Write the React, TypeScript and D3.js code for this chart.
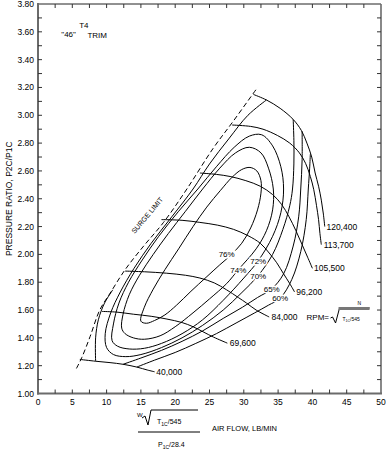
import React from 'react'
import * as d3 from 'd3'

// compressor map, "46" trim, T4
const surge: [number, number][] = [
  [5.6, 1.18], [6.4, 1.26], [7.6, 1.41], [9.0, 1.60], [10.5, 1.72], [12.7, 1.89],
  [15.4, 2.06], [18.3, 2.23], [21.7, 2.47], [25.5, 2.76], [28.5, 2.96], [32.0, 3.20],
]

const speedNames = ['40,000', '69,600', '84,000', '96,200', '105,500', '113,700', '120,400']
const speedLines: [number, number][][] = [
  [[6.1, 1.245], [8.4, 1.232], [10.5, 1.222], [12.4, 1.21], [14.4, 1.19], [16.0, 1.168], [17.0, 1.156]],
  [[9.3, 1.59], [11.5, 1.585], [13.9, 1.57], [16.5, 1.555], [18.8, 1.535], [21, 1.51], [22.6, 1.48], [24.2, 1.44], [25.6, 1.405], [27.6, 1.362]],
  [[12.7, 1.88], [15.5, 1.875], [18.7, 1.865], [21.5, 1.85], [23.6, 1.83], [25.7, 1.795], [27.5, 1.745], [29.2, 1.69], [30.4, 1.65], [31.8, 1.60], [33.7, 1.55]],
  [[18.0, 2.25], [21, 2.245], [23.6, 2.23], [26.2, 2.21], [28.5, 2.18], [30.6, 2.135], [32.4, 2.08], [33.7, 2.01], [34.8, 1.94], [35.8, 1.86], [36.7, 1.79], [37.4, 1.73]],
  [[23.6, 2.585], [26, 2.575], [28.0, 2.56], [30.3, 2.53], [32.4, 2.49], [34.2, 2.43], [35.5, 2.36], [36.6, 2.27], [37.6, 2.17], [38.5, 2.07], [39.3, 1.98], [40.0, 1.90]],
  [[28.3, 2.93], [31, 2.92], [32.8, 2.90], [34.9, 2.855], [36.7, 2.80], [38.1, 2.73], [39.0, 2.655], [39.7, 2.56], [40.2, 2.465], [40.6, 2.35], [40.9, 2.25], [41.1, 2.15], [41.3, 2.07]],
  [[31.4, 3.15], [33.3, 3.11], [35.3, 3.05], [37.2, 2.97], [38.4, 2.89], [39.2, 2.80], [39.9, 2.70], [40.4, 2.585], [40.9, 2.49], [41.3, 2.39], [41.6, 2.29], [41.8, 2.20]],
]
const speedLabelAt: [number, number][] = [
  [17.1, 1.155], [27.8, 1.36], [33.9, 1.55], [37.5, 1.73], [40.1, 1.90], [41.5, 2.07], [41.9, 2.20],
]

// efficiency contours
const effNames = ['76%', '74%', '72%', '70%', '65%', '60%']
const effClosed = [true, true, true, false, false, false]
const effLines: [number, number][][][] = [
  [[[15.0, 1.52], [15.5, 1.62], [16.8, 1.75], [18.5, 1.89], [20.5, 2.04], [22.6, 2.20], [24.6, 2.34], [26.6, 2.46], [28.3, 2.555], [29.7, 2.61], [30.9, 2.625], [31.9, 2.60], [32.5, 2.53], [32.5, 2.44], [32.0, 2.32], [31.0, 2.19], [29.7, 2.08], [28.0, 1.99], [26.5, 1.925], [24.5, 1.835], [22.3, 1.735], [20.2, 1.635], [18.5, 1.565], [17.0, 1.525], [15.8, 1.505]]],
  [[[12.2, 1.47], [12.4, 1.57], [13.3, 1.71], [14.8, 1.85], [16.8, 2.0], [19.0, 2.15], [21.5, 2.31], [24.0, 2.47], [26.5, 2.62], [28.8, 2.73], [30.8, 2.77], [32.5, 2.73], [33.6, 2.62], [34.3, 2.47], [34.2, 2.32], [33.3, 2.17], [31.8, 2.04], [29.2, 1.89], [27.5, 1.79], [25.0, 1.68], [22.6, 1.58], [20.0, 1.48], [17.8, 1.415], [15.5, 1.39], [13.9, 1.40], [12.7, 1.43]]],
  [[[10.8, 1.38], [11.0, 1.50], [11.8, 1.65], [13.2, 1.80], [15.2, 1.96], [17.6, 2.13], [20.5, 2.31], [23.3, 2.47], [26.0, 2.63], [28.6, 2.77], [30.8, 2.85], [32.6, 2.86], [34.2, 2.78], [35.4, 2.63], [35.8, 2.47], [35.4, 2.30], [34.2, 2.13], [32.1, 1.954], [30.0, 1.83], [27.0, 1.67], [24.0, 1.53], [21.0, 1.43], [18.0, 1.36], [15.5, 1.325], [13.3, 1.32], [11.6, 1.34]]],
  [[[33.3, 3.11], [30.6, 3.0], [27.8, 2.83], [25.0, 2.65], [22.6, 2.47], [19.5, 2.27], [16.5, 2.08], [14.0, 1.90], [12.0, 1.73], [10.6, 1.58], [9.8, 1.43], [10.0, 1.33], [11.0, 1.28], [12.8, 1.265], [15.0, 1.28], [18.0, 1.33], [21.0, 1.40], [24.0, 1.49], [27.0, 1.60], [29.6, 1.72], [32.1, 1.848], [34.2, 2.0], [35.7, 2.18], [36.7, 2.35], [37.1, 2.47], [37.3, 2.65], [37.3, 2.82], [37.2, 2.97]]],
  [
    [[8.4, 1.232], [8.4, 1.40], [8.8, 1.53], [9.7, 1.65], [10.9, 1.745]],
    [[12.4, 1.21], [15.0, 1.255], [18.0, 1.31], [21.0, 1.375], [24.0, 1.45], [27.0, 1.54], [29.8, 1.62], [32.0, 1.69], [34.07, 1.752], [35.8, 1.86], [37.2, 2.06], [38.0, 2.27], [38.3, 2.47], [38.5, 2.68], [38.5, 2.885]],
  ],
  [[[14.4, 1.19], [17.0, 1.24], [20.0, 1.295], [23.0, 1.36], [26.0, 1.43], [29.0, 1.51], [31.6, 1.58], [33.6, 1.635], [35.3, 1.685], [37.0, 1.82], [38.3, 2.02], [39.1, 2.25], [39.4, 2.47], [39.6, 2.62], [39.7, 2.72]]],
]
const effLabelAt: [number, number][] = [
  [27.5, 2.0], [29.2, 1.89], [32.1, 1.954], [32.1, 1.848], [34.07, 1.752], [35.3, 1.685],
]

const xTicks = d3.range(0, 11).map(i => i * 5)
const xMinor = d3.range(0, 21).map(i => i * 2.5)
const yTicks = d3.range(0, 15).map(i => 1 + i * 0.2)
const yMinor = d3.range(0, 29).map(i => 1 + i * 0.1)

const W = 387, H = 451
const FONT = '"Liberation Sans", Arial, Helvetica, sans-serif'

const App = () => {
  const x = d3.scaleLinear().domain([0, 50]).range([38, 381])
  const y = d3.scaleLinear().domain([1, 3.8]).range([393.5, 4])
  const line = d3.line<[number, number]>().x(d => x(d[0])).y(d => y(d[1])).curve(d3.curveCatmullRom)
  const loop = d3.line<[number, number]>().x(d => x(d[0])).y(d => y(d[1])).curve(d3.curveCatmullRomClosed)

  const x0 = x(0), x1 = x(50), y0 = y(1), y1 = y(3.8)
  const axisCol = '#6b6b6b'

  return (
    <svg width={W} height={H} style={{ position: 'absolute', left: 0, top: 0, background: '#fff' }}
      fontFamily={FONT}>
      {/* frame */}
      <line x1={x0} x2={x1} y1={y1} y2={y1} stroke="#222" strokeWidth={1} />
      <line x1={x1} x2={x1} y1={y1} y2={y0} stroke={axisCol} strokeWidth={1.6} />
      <line x1={x0} x2={x0} y1={y1 - 1} y2={y0 + 1} stroke={axisCol} strokeWidth={2} />
      <line x1={x0 - 1} x2={x1 + 1} y1={y0} y2={y0} stroke={axisCol} strokeWidth={2} />
      {xMinor.slice(1, -1).map(t => (
        <g key={'xt' + t}>
          <line x1={x(t)} x2={x(t)} y1={y0} y2={y0 - 4} stroke="#333" strokeWidth={1} />
          <line x1={x(t)} x2={x(t)} y1={y1} y2={y1 + 4} stroke="#333" strokeWidth={1} />
        </g>
      ))}
      {yMinor.slice(1, -1).map(t => (
        <g key={'yt' + t}>
          <line x1={x0} x2={x0 + 4} y1={y(t)} y2={y(t)} stroke="#333" strokeWidth={1} />
          <line x1={x1} x2={x1 - 4} y1={y(t)} y2={y(t)} stroke="#333" strokeWidth={1} />
        </g>
      ))}
      {xTicks.map(t => (
        <text key={'xl' + t} x={x(t)} y={y0 + 11} fontSize={8.5} textAnchor="middle">{t}</text>
      ))}
      {yTicks.map(t => (
        <text key={'yl' + t} x={x0 - 4} y={y(t) + 3} fontSize={8.5} textAnchor="end">{t.toFixed(2)}</text>
      ))}
      <text transform={`translate(12,${y(2.4)}) rotate(-90)`} fontSize={8.5} textAnchor="middle">PRESSURE RATIO, P2C/P1C</text>

      {/* x axis title */}
      <g fontSize={7}>
        <text x={137} y={417} fontSize={6}>W</text>
        <path d="M142,418 L145,416 L148,425 L151,410 L198,410" fill="none" stroke="#000" strokeWidth={1} />
        <text x={157} y={424}>T<tspan fontSize={5} dy={2}>1C</tspan><tspan dy={-2}>/545</tspan></text>
        <line x1={138} x2={200} y1={432} y2={432} stroke="#000" strokeWidth={1} />
        <text x={158} y={447}>P<tspan fontSize={5} dy={2}>1C</tspan><tspan dy={-2}>/28.4</tspan></text>
        <text x={212} y={431} fontSize={7.5}>AIR FLOW, LB/MIN</text>
      </g>

      {/* trim note */}
      <text x={x(3.4)} y={y(3.56)} fontSize={8}>"46"</text>
      <text x={x(6.0)} y={y(3.625)} fontSize={8}>T4</text>
      <text x={x(7.2)} y={y(3.555)} fontSize={8}>TRIM</text>

      {/* surge */}
      <path d={line(surge) ?? ''} fill="none" stroke="#000" strokeWidth={1} strokeDasharray="5,3" />
      <text transform={`translate(${x(16.2)},${y(2.27)}) rotate(-50)`} fontSize={7} textAnchor="middle">SURGE LIMIT</text>

      {/* speed lines */}
      {speedLines.map((s, i) => (
        <path key={'s' + i} d={line(s) ?? ''} fill="none" stroke="#000" strokeWidth={1} />
      ))}
      {speedNames.map((n, i) => (
        <text key={'sl' + i} x={x(speedLabelAt[i][0]) + 1} y={y(speedLabelAt[i][1]) + 3} fontSize={8.5}>{n}</text>
      ))}

      {/* efficiency */}
      {effLines.map((parts, i) => parts.map((p, j) => (
        <path key={'e' + i + '-' + j} d={(effClosed[i] ? loop(p) : line(p)) ?? ''} fill="none" stroke="#000" strokeWidth={1} />
      )))}
      {effNames.map((n, i) => (
        <text key={'el' + i} x={x(effLabelAt[i][0])} y={y(effLabelAt[i][1]) + 3} fontSize={8}
          textAnchor="middle" stroke="#fff" strokeWidth={3} paintOrder="stroke" fill="#000">{n}</text>
      ))}

      {/* rpm formula */}
      <g>
        <text x={x(33.9) + 36} y={y(1.55) + 3} fontSize={8}>RPM=</text>
        <path d={`M${x(33.9) + 60},${y(1.55) + 1} l2,-1 l3,6 l4,-15 l30,0`} fill="none" stroke="#000" strokeWidth={1} />
        <rect x={x(33.9) + 68} y={y(1.55) - 10} width={31} height={3} fill="#777" />
        <text x={x(33.9) + 87} y={y(1.55) - 12} fontSize={5}>N</text>
        <text x={x(33.9) + 72} y={y(1.55) + 4} fontSize={5}>T<tspan fontSize={3.5} dy={1}>1C</tspan><tspan dy={-1}>/545</tspan></text>
      </g>
    </svg>
  )
}

export default App
